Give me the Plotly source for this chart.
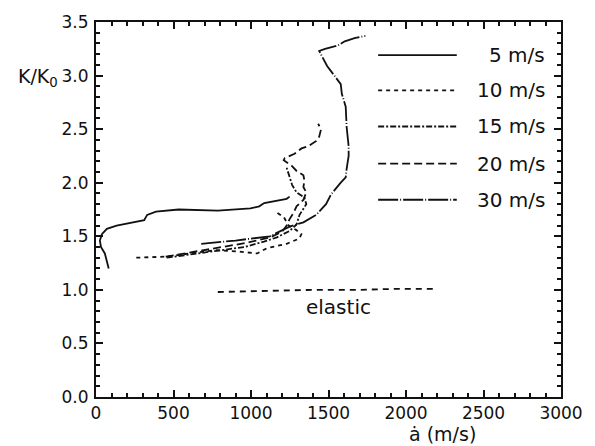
import plotly.graph_objects as go

# ---- data ----
v5_x = [82, 57, 32, 25, 38, 70, 133, 235, 311, 330, 387, 533, 786, 996, 1053, 1085, 1230, 1249]
v5_y = [1.20, 1.34, 1.40, 1.46, 1.52, 1.57, 1.60, 1.63, 1.65, 1.70, 1.73, 1.75, 1.74, 1.76, 1.78, 1.81, 1.85, 1.87]

v10_x = [260, 450, 767, 900, 1040, 1104, 1230, 1313, 1325, 1290, 1243, 1211, 1167, 1148]
v10_y = [1.30, 1.31, 1.37, 1.36, 1.34, 1.39, 1.43, 1.48, 1.52, 1.56, 1.60, 1.68, 1.72, 1.73]

v15_x = [456, 742, 958, 1084, 1167, 1249, 1294, 1313, 1357, 1345, 1294, 1265, 1250, 1230]
v15_y = [1.30, 1.36, 1.40, 1.45, 1.49, 1.55, 1.61, 1.70, 1.80, 1.86, 1.91, 1.98, 2.06, 2.14]

v20_x = [450, 767, 977, 1123, 1199, 1230, 1249, 1275, 1294, 1338, 1357, 1338, 1345, 1338,
         1294, 1262, 1211, 1218, 1281, 1326, 1370, 1421, 1440, 1452, 1433]
v20_y = [1.31, 1.39, 1.44, 1.49, 1.54, 1.60, 1.66, 1.72, 1.78, 1.84, 1.91, 1.96, 2.02, 2.07,
         2.11, 2.16, 2.21, 2.23, 2.27, 2.32, 2.34, 2.39, 2.43, 2.50, 2.55]

v30_x = [679, 900, 1122, 1249, 1338, 1421, 1484, 1516, 1579, 1611, 1617, 1630, 1630, 1617,
         1611, 1586, 1579, 1535, 1491, 1465, 1440, 1478, 1560, 1605, 1668, 1738]
v30_y = [1.43, 1.46, 1.50, 1.59, 1.63, 1.70, 1.80, 1.89, 2.00, 2.05, 2.13, 2.25, 2.34, 2.52,
         2.71, 2.83, 2.92, 3.01, 3.09, 3.16, 3.23, 3.25, 3.28, 3.32, 3.35, 3.37]

el_x = [786, 1100, 1400, 1700, 1950, 2200]
el_y = [0.98, 0.99, 1.00, 1.00, 1.01, 1.01]

labels = ["5 m/s", "10 m/s", "15 m/s", "20 m/s", "30 m/s"]
dashes = ["solid", "4px,4px", "6px,2px,2px,2px", "8px,4px", "20px,2px,1px,2px"]

series = [(v5_x, v5_y), (v10_x, v10_y), (v15_x, v15_y), (v20_x, v20_y), (v30_x, v30_y)]

fig = go.Figure()
for (xs, ys), name, d in zip(series, labels, dashes):
    fig.add_trace(go.Scatter(x=xs, y=ys, mode="lines", name=name,
                             line=dict(color="#111", width=1.8, dash=d), showlegend=False))
fig.add_trace(go.Scatter(x=el_x, y=el_y, mode="lines", name="elastic",
                         line=dict(color="#111", width=1.8, dash="6px,5px"), showlegend=False))

font = "DejaVu Sans, Verdana, sans-serif"

# manual legend (decoration in paper coordinates)
W, H = 595, 446
L, R, T, B = 96, 26, 13, 49
pw, ph = W - L - R, H - T - B
leg_y = [47, 83, 120, 158, 195]
for yy, name, d in zip(leg_y, labels, dashes):
    yp = 1 - (yy - T) / ph
    fig.add_shape(type="line", xref="paper", yref="paper",
                  x0=(383 - L) / pw, x1=(463 - L) / pw, y0=yp, y1=yp,
                  line=dict(color="#111", width=1.8, dash=d))
    fig.add_annotation(xref="paper", yref="paper", x=(555 - L) / pw, y=yp,
                       text=name, showarrow=False, xanchor="right", yanchor="middle",
                       font=dict(size=20, color="#111", family=font))

fig.add_annotation(x=1567, y=0.84, text="elastic", showarrow=False,
                   font=dict(size=20, color="#111", family=font))
fig.add_annotation(xref="paper", yref="paper", x=(37 - L) / pw, y=1 - (70 - T) / ph,
                   text="K/K<sub>0</sub>", showarrow=False, xanchor="center", yanchor="middle",
                   font=dict(size=19, color="#111", family=font))
fig.add_annotation(xref="paper", yref="paper", x=(448 - L) / pw, y=1 - (435 - T) / ph,
                   text="ȧ (m/s)", showarrow=False, xanchor="center", yanchor="middle",
                   font=dict(size=19, color="#111", family=font))

axis_common = dict(showline=True, linecolor="#111", linewidth=2, mirror="ticks",
                   ticks="inside", ticklen=7, tickwidth=1.5, tickcolor="#111",
                   showgrid=False, zeroline=False,
                   tickfont=dict(size=17, color="#111", family=font))
fig.update_xaxes(range=[0, 3000], dtick=500, tick0=0, ticklabelstandoff=0,
                 minor=dict(dtick=100, ticks="inside", ticklen=4, tickcolor="#111", showgrid=False),
                 **axis_common)
fig.update_yaxes(range=[0, 3.5], dtick=0.5, tick0=0, tickformat=".1f", ticklabelstandoff=2,
                 minor=dict(dtick=0.1, ticks="inside", ticklen=4, tickcolor="#111", showgrid=False),
                 **axis_common)

fig.update_layout(width=W, height=H, margin=dict(l=L, r=R, t=T, b=B),
                  plot_bgcolor="white", paper_bgcolor="white", showlegend=False)

fig.write_html("out.html")
